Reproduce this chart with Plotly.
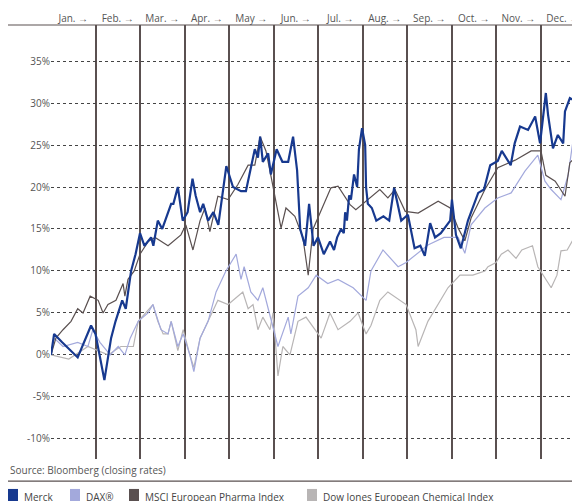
import plotly.graph_objects as go

# month position (0 = start of Jan, 12 = end of Dec), values in %
merck_x = [0, 0.07, 0.25, 0.45, 0.6, 0.9, 1.0, 1.2, 1.35, 1.45, 1.6, 1.68, 1.8, 1.9, 2.0, 2.1,
           2.25, 2.3, 2.4, 2.5, 2.7, 2.75, 2.85, 2.96, 3.07, 3.18, 3.25, 3.35, 3.42, 3.53, 3.65,
           3.76, 3.9, 3.94, 4.09, 4.27, 4.38, 4.58, 4.65, 4.7, 4.76, 4.88, 4.94, 5.07, 5.2, 5.33,
           5.44, 5.53, 5.6, 5.71, 5.8, 5.9, 6.0, 6.07, 6.13, 6.27, 6.36, 6.43, 6.52, 6.58, 6.61,
           6.65, 6.7, 6.74, 6.81, 6.88, 6.92, 6.99, 7.06, 7.08, 7.12, 7.21, 7.31, 7.47, 7.6, 7.71,
           7.87, 8.02, 8.17, 8.3, 8.4, 8.52, 8.63, 8.76, 8.97, 9.01, 9.1, 9.21, 9.37, 9.6, 9.73,
           9.87, 10.04, 10.13, 10.33, 10.42, 10.54, 10.72, 10.88, 10.99, 11.12, 11.17, 11.28,
           11.39, 11.51, 11.55, 11.66, 11.73, 11.91, 12.0]
merck_y = [0, 2.5, 1.5, 0.5, -0.3, 3.5, 2.5, -3, 2, 4, 6.5, 5.5, 10, 12, 14.5, 13,
           14, 13, 16, 15, 18, 18, 20, 16, 17, 21, 19, 17, 18, 16, 17,
           15.5, 21, 22.5, 20, 19.5, 19.5, 24.5, 23.5, 26, 23, 24, 21.5, 24.5, 23, 23,
           26, 22, 15, 13, 18, 13, 14, 13, 12, 13.5, 12.5, 14, 15, 14.5, 17,
           16, 19, 18.5, 21.5, 20, 24.5, 27, 25, 20, 18, 17.5, 16, 16.5, 16, 19.9,
           16, 16.7, 12.7, 13, 11.8, 15.7, 14, 14.5, 16, 18.5, 14.3, 12.7, 16, 19.3, 19.7,
           22.6, 23.1, 24.3, 22.6, 25.2, 27.2, 26.8, 28.4, 25.2, 31.2, 28.6, 24.6, 26.2, 25.2,
           29, 30.6, 30.4, 30.9]

dax_x = [0, 0.07, 0.27, 0.6, 0.83, 0.94, 1.1, 1.33, 1.51, 1.66, 1.78, 1.96, 2.18, 2.29, 2.47,
         2.63, 2.7, 2.85, 2.97, 3.12, 3.21, 3.35, 3.53, 3.71, 3.93, 4.09, 4.16, 4.27, 4.34, 4.49,
         4.65, 4.76, 5.1, 5.33, 5.39, 5.55, 5.78, 5.96, 6.22, 6.45, 6.79, 7.08, 7.19, 7.46, 7.62,
         7.8, 7.98, 8.47, 8.83, 9.15, 9.3, 9.44, 9.75, 10.04, 10.34, 10.65, 10.94, 11.1, 11.24,
         11.46, 11.62, 11.73, 11.91, 12.0]
dax_y = [0, 2, 1, 1.5, 1, 3, 1.5, 0, 1, 0, 2, 4, 5, 6, 3,
         2.5, 4, 1, 2.5, 0, -2, 2, 4, 7.5, 10, 11.5, 12, 9, 10.5, 7.5,
         6.5, 8, 1, 4.5, 2.5, 7, 8, 9.5, 8.5, 9, 8, 6.5, 10, 12.5, 11.5,
         10.5, 11, 13.1, 14, 14, 12.1, 15.5, 17.5, 18.7, 19.3, 21.9, 23.8, 20.7, 19.7,
         18.5, 21.4, 25.5, 26.1, 25.8]

msci_x = [0, 0.11, 0.27, 0.45, 0.6, 0.72, 0.88, 1.06, 1.17, 1.28, 1.46, 1.62, 1.66, 1.73,
          1.87, 2.0, 2.18, 2.34, 2.63, 2.92, 3.03, 3.19, 3.35, 3.46, 3.57, 3.75, 3.98, 4.2,
          4.43, 4.58, 4.7, 4.83, 4.94, 5.06, 5.17, 5.28, 5.48, 5.66, 5.78, 5.89, 6.0, 6.29,
          6.45, 6.72, 6.85, 7.17, 7.39, 7.57, 7.73, 7.96, 8.25, 8.7, 8.97, 9.15, 9.3, 9.44,
          9.75, 10.04, 10.43, 10.79, 11.01, 11.12, 11.33, 11.55, 11.66, 11.84, 12.0]
msci_y = [0, 2, 3, 4, 5.5, 5, 7, 6.5, 5, 6, 6.5, 8.5, 7, 9,
          10, 12, 13.5, 14, 13, 14.3, 15.5, 12.5, 16, 17.5, 14.7, 18.9, 18.5, 20.3,
          22.6, 22.6, 26, 24.3, 21.4, 17.9, 15.1, 17.5, 16.5, 14, 9.5, 15, 16.3, 19.9,
          20.1, 17.9, 17.3, 18.7, 19.7, 18.7, 19.7, 17.1, 16.9, 18.3, 17.5, 15.1, 13.6, 16.3,
          19.7, 22.3, 23.2, 24.3, 24.3, 21.4, 20.7, 18.9, 22.9, 23.8, 24.4]

chem_x = [0, 0.4, 0.83, 1.28, 1.57, 1.85, 1.96, 2.13, 2.29, 2.4, 2.52, 2.63, 2.7, 2.85, 2.97,
          3.12, 3.21, 3.35, 3.53, 3.75, 3.98, 4.31, 4.43, 4.54, 4.65, 4.76, 4.92, 4.99, 5.03,
          5.1, 5.21, 5.37, 5.55, 5.73, 6.07, 6.27, 6.45, 6.72, 6.9, 7.08, 7.19, 7.39, 7.57,
          7.98, 8.2, 8.25, 8.47, 8.92, 9.19, 9.48, 9.75, 9.82, 10.0, 10.12, 10.27, 10.45, 10.58,
          10.82, 10.94, 11.06, 11.24, 11.37, 11.46, 11.6, 11.78, 12.0]
chem_y = [0, -0.5, 1, 0, 1, 1, 4, 5, 6, 4, 2.5, 2.5, 4, 0.5, 3,
          0, -1.5, 2, 4, 6.5, 6, 7.5, 5.5, 6, 3, 4.5, 3, 5, 2.5,
          -2.5, 1, 0, 4, 4.5, 2, 5, 3, 4, 5, 2.5, 3.5, 6.5, 7.5,
          6, 3, 1, 4, 8, 9.5, 9.5, 10, 10.5, 11, 12, 12.5, 11.5, 12.5,
          13, 10.5, 9.5, 8, 9.5, 12.4, 12.5, 14.2, 13.9]

months = ["Jan.", "Feb.", "Mar.", "Apr.", "May", "Jun.", "Jul.", "Aug.", "Sep.", "Oct.", "Nov.", "Dec."]
y_ticks = [-10, -5, 0, 5, 10, 15, 20, 25, 30, 35]

series = [
    ("Dow Jones European Chemical Index", chem_x, chem_y, "#b8b5b5", 1.2),
    ("DAX®", dax_x, dax_y, "#a3a9dc", 1.2),
    ("MSCI European Pharma Index", msci_x, msci_y, "#5a5050", 1.2),
    ("Merck", merck_x, merck_y, "#17398f", 2.2),
]

fig = go.Figure()
for name, xs, ys, col, w in series:
    fig.add_trace(go.Scatter(x=xs, y=ys, mode="lines", name=name,
                             line=dict(color=col, width=w), showlegend=False))

fig.update_layout(
    width=580, height=501,
    margin=dict(l=43, r=3, t=17, b=50, autoexpand=False),
    plot_bgcolor="white", paper_bgcolor="white",
    font=dict(family="Open Sans", size=10, color="#555"),
    xaxis=dict(range=[0, 12], side="top", tickvals=[i + 0.5 for i in range(12)],
               ticktext=[m + " →" for m in months], showgrid=False, zeroline=False,
               ticks="", ticklen=0, showline=False, automargin=False,
               minor=dict(tickvals=list(range(13)), showgrid=True, gridcolor="#5a5050", gridwidth=1.5)),
    yaxis=dict(range=[-12.4, 39.3], tickvals=y_ticks, ticktext=[f"{v}%" for v in y_ticks],
               showgrid=True, gridcolor="#444", griddash="dot", gridwidth=1, zeroline=False,
               ticks="", showline=False, automargin=False),
)

# top and bottom rules
fig.add_shape(type="line", xref="paper", yref="paper", x0=-0.081, x1=1.006, y0=1, y1=1,
              line=dict(color="#5a5050", width=1.2))
fig.add_shape(type="line", xref="paper", yref="paper", x0=-0.081, x1=1.006, y0=-0.051, y1=-0.051,
              line=dict(color="#5a5050", width=1.2))
fig.add_annotation(text="Source: Bloomberg (closing rates)", xref="paper", yref="paper",
                   x=-0.081, y=-0.025, xanchor="left", yanchor="middle", showarrow=False,
                   font=dict(size=10, color="#555"))

# legend squares and labels
leg = [("Merck", "#17398f", 0), ("DAX®", "#a3a9dc", 62), ("MSCI European Pharma Index", "#5a5050", 121),
       ("Dow Jones European Chemical Index", "#b8b5b5", 299)]
for name, col, px in leg:
    x0 = (px - 43) / 534
    fig.add_shape(type="rect", xref="paper", yref="paper", x0=x0, x1=x0 + 10 / 534,
                  y0=-0.106, y1=-0.069, fillcolor=col, line_width=0)
    fig.add_annotation(text=name, xref="paper", yref="paper", x=x0 + 14 / 534, y=-0.088,
                       xanchor="left", yanchor="middle", showarrow=False,
                       font=dict(size=10, color="#444"))

fig.write_html("out.html")
